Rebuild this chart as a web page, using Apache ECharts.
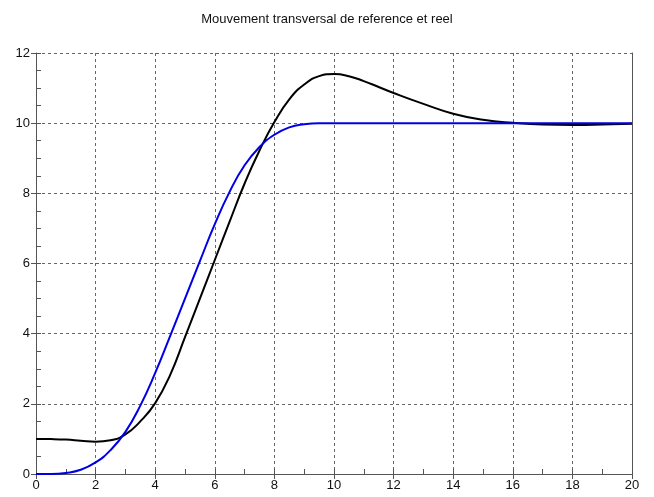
<!DOCTYPE html>
<html>
<head>
<meta charset="utf-8">
<script src="https://cdn.jsdelivr.net/npm/echarts@6/dist/echarts.min.js"></script>
<style>html,body{margin:0;padding:0;background:#fff}#c{width:654px;height:497px}</style>
</head>
<body>
<div id="c"></div>
<script>
var title = "Mouvement transversal de reference et reel";
var xs = [0,0.5,1,1.5,2,2.5,3,3.5,4,4.5,5,5.5,6,6.5,7,7.5,8,8.5,9,9.5,10,10.5,11,11.5,12,13,14,15,16,17,18,19,20];
var reel = [1.0,0.995,0.98,0.95,0.92,0.96,1.13,1.5,2.02,2.82,3.9,5.0,6.1,7.2,8.28,9.22,10.03,10.68,11.1,11.34,11.4,11.34,11.2,11.03,10.86,10.55,10.27,10.1,10.01,9.96,9.95,9.96,9.98];
var reference = [0,0.0,0.03,0.12,0.33,0.68,1.2,1.95,2.88,3.93,5.0,6.07,7.12,8.05,8.8,9.32,9.67,9.88,9.97,10.0,10,10,10,10,10,10,10,10,10,10,10,10,10];

var chart = echarts.init(document.getElementById('c'), null, {renderer:'canvas'});
var fontFam = 'Liberation Sans, Arial, sans-serif';
var gridLine = {show:true, lineStyle:{color:'#666', type:[3,3], width:1}};
chart.setOption({
  animation:false,
  backgroundColor:'#fff',
  title:{text:title, left:'center', top:8, textStyle:{fontSize:13, fontWeight:'normal', color:'#111', fontFamily:fontFam}},
  grid:{left:36, right:22, top:53, bottom:23, containLabel:false},
  xAxis:[
    {type:'value', min:0, max:20, interval:2,
     axisLine:{show:true, onZero:false, lineStyle:{color:'#555', width:1}},
     axisTick:{show:true, inside:false, length:5, lineStyle:{color:'#555'}},
     axisLabel:{color:'#111', fontSize:13, fontFamily:fontFam, margin:5},
     splitLine:gridLine},
    {type:'value', min:0, max:20, interval:1, position:'bottom',
     axisLine:{show:false},
     axisTick:{show:true, inside:true, length:5, lineStyle:{color:'#555'}},
     axisLabel:{show:false}, splitLine:{show:false}}
  ],
  yAxis:[
    {type:'value', min:0, max:12, interval:2,
     axisLine:{show:true, onZero:false, lineStyle:{color:'#555', width:1}},
     axisTick:{show:true, inside:false, length:5, lineStyle:{color:'#555'}},
     axisLabel:{color:'#111', fontSize:13, fontFamily:fontFam, margin:6},
     splitLine:gridLine},
    {type:'value', min:0, max:12, interval:0.5, position:'left',
     axisLine:{show:false},
     axisTick:{show:true, inside:true, length:5, lineStyle:{color:'#555'}},
     axisLabel:{show:false}, splitLine:{show:false}},
    {type:'value', min:0, max:12, interval:2, position:'right',
     axisLine:{show:true, onZero:false, lineStyle:{color:'#555', width:1}},
     axisTick:{show:false}, axisLabel:{show:false}, splitLine:{show:false}}
  ],
  series:[
    {type:'line', name:'reel', xAxisIndex:0, yAxisIndex:0, showSymbol:false, smooth:0.5,
     lineStyle:{color:'#000', width:2}, data:xs.map(function(x,i){return [x, reel[i]];})},
    {type:'line', name:'reference', xAxisIndex:0, yAxisIndex:0, showSymbol:false, smooth:0.5,
     lineStyle:{color:'#0000e6', width:2}, data:xs.map(function(x,i){return [x, reference[i]];})}
  ]
});
</script>
</body>
</html>
